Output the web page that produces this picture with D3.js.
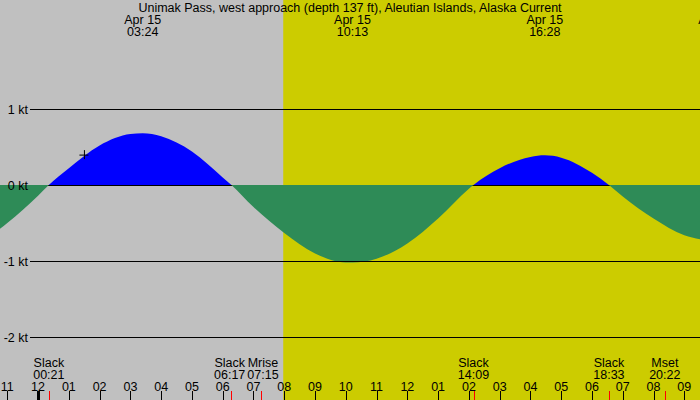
<!DOCTYPE html>
<html>
<head>
<meta charset="utf-8">
<script src="https://cdn.jsdelivr.net/npm/d3@7"></script>
<style>
  body { margin: 0; background: #fff; }
  svg text { font-family: "Liberation Sans", Arial, sans-serif; font-size: 12.5px; fill: #000; }
</style>
</head>
<body>
<svg id="chart" width="700" height="400"></svg>
<script>
// current readings, hours of Apr 15 (negative = Apr 14)
var sampleHours = [-1.25, -1, 0, 0.35, 1, 2, 3, 3.4, 4, 5, 6, 6.283, 7, 8, 9, 10, 10.217,
    11, 12, 13, 14, 14.15, 15, 16, 16.467, 17, 18, 18.55, 19, 20, 21, 21.6]
var sampleKnots = [-0.58, -0.50, -0.14, 0, 0.22, 0.52, 0.67, 0.68, 0.64, 0.44, 0.10, 0, -0.29, -0.63, -0.90, -1.02, -1.02,
    -0.97, -0.77, -0.44, -0.05, 0, 0.22, 0.37, 0.39, 0.36, 0.16, 0, -0.15, -0.44, -0.66, -0.72]

// top labels (max current)
var maxTimes = ["03:24", "10:13", "16:28", "22:03"]
var maxDates = ["Apr 15", "Apr 15", "Apr 15", "Apr 15"]

// bottom labels
var eventNames = ["Slack", "Slack", "Mrise", "Slack", "Slack", "Mset"]
var eventTimes = ["00:21", "06:17", "07:15", "14:09", "18:33", "20:22"]

var knotTicks = [1, 0, -1, -2]
var hourTicks = d3.range(-1, 22)
var sunrise = "07:58"
var marker = [1.49, 0.40]

var title = "Unimak Pass, west approach (depth 137 ft), Aleutian Islands, Alaska Current"

function toHours(s) {
    var p = s.split(":")
    return +p[0] + (+p[1]) / 60
}

var svg = d3.select("#chart")
var W = 700, H = 400

var x = d3.scaleLinear().domain([-1, 21]).range([7.3, 684.3])
var y = d3.scaleLinear().domain([-2, 1]).range([337, 109])

// night / day background
svg.append("rect").attr("x", 0).attr("y", 0).attr("width", W).attr("height", H).attr("fill", "#c0c0c0")
svg.append("rect")
    .attr("x", x(toHours(sunrise))).attr("y", 0)
    .attr("width", W - x(toHours(sunrise))).attr("height", H)
    .attr("fill", "#cccc00")

var samples = sampleHours.map(function (h, i) { return { h: h, v: sampleKnots[i] } })

// clip regions above / below slack water
var defs = svg.append("defs")
defs.append("clipPath").attr("id", "above")
    .append("rect").attr("x", 0).attr("y", 0).attr("width", W).attr("height", y(0))
defs.append("clipPath").attr("id", "below")
    .append("rect").attr("x", 0).attr("y", y(0)).attr("width", W).attr("height", H - y(0))

var area = d3.area()
    .x(function (d) { return x(d.h) })
    .y0(y(0))
    .y1(function (d) { return y(d.v) })
    .curve(d3.curveMonotoneX)

svg.append("path").attr("d", area(samples)).attr("fill", "#0000ff").attr("clip-path", "url(#above)")

// zero line (hidden under the ebb fill)
svg.append("line")
    .attr("x1", 30).attr("x2", W)
    .attr("y1", y(0) + 0.5).attr("y2", y(0) + 0.5)
    .attr("stroke", "#000")

svg.append("path").attr("d", area(samples)).attr("fill", "#2e8b57").attr("clip-path", "url(#below)")

// other grid lines sit on top
svg.selectAll(".grid")
    .data(knotTicks.filter(function (d) { return d !== 0 }))
    .enter()
    .append("line")
    .attr("class", "grid")
    .attr("x1", 30).attr("x2", W)
    .attr("y1", function (d) { return y(d) + 0.5 })
    .attr("y2", function (d) { return y(d) + 0.5 })
    .attr("stroke", "#000")

svg.selectAll(".klabel")
    .data(knotTicks)
    .enter()
    .append("text")
    .attr("x", 28)
    .attr("y", function (d) { return y(d) + 4.5 })
    .attr("text-anchor", "end")
    .text(function (d) { return d + " kt" })

// "+" marker
var mx = x(marker[0]), my = y(marker[1])
svg.append("path")
    .attr("d", "M" + (mx - 4.5) + " " + (my + 0.5) + "H" + (mx + 4.5) + "M" + (mx + 0.5) + " " + (my - 4.5) + "V" + (my + 4.5))
    .attr("stroke", "#000")
    .attr("fill", "none")

// title and max labels
svg.append("text").attr("x", W / 2).attr("y", 11.5).attr("text-anchor", "middle").text(title)

var tops = svg.selectAll(".top")
    .data(maxTimes)
    .enter()
    .append("g")
    .attr("transform", function (d) { return "translate(" + x(toHours(d)) + ",0)" })
tops.append("text").attr("y", 23.5).attr("text-anchor", "middle").text(function (d, i) { return maxDates[i] })
tops.append("text").attr("y", 35.5).attr("text-anchor", "middle").text(function (d) { return d })

// bottom event labels, nudged apart when they collide
var bots = svg.selectAll(".bot")
    .data(eventTimes)
    .enter()
    .append("g")
bots.append("text").attr("class", "name").attr("y", 366.5).attr("text-anchor", "middle").text(function (d, i) { return eventNames[i] })
bots.append("text").attr("class", "time").attr("y", 378.5).attr("text-anchor", "middle").text(function (d) { return d })

var centers = eventTimes.map(function (d) { return x(toHours(d)) })
var widths = []
bots.each(function () {
    var w = 0
    d3.select(this).selectAll("text").each(function () { w = Math.max(w, this.getComputedTextLength()) })
    widths.push(w)
})
var shifted = centers.slice()
for (var i = 1; i < shifted.length; i++) {
    var gap = (shifted[i] - widths[i] / 2) - (shifted[i - 1] + widths[i - 1] / 2)
    if (gap < 2) {
        shifted[i - 1] -= (2 - gap) / 2
        shifted[i] += (2 - gap) / 2
    }
}
bots.attr("transform", function (d, i) { return "translate(" + shifted[i] + ",0)" })

svg.selectAll(".etick")
    .data(eventTimes)
    .enter()
    .append("line")
    .attr("x1", function (d) { return Math.round(x(toHours(d))) + 0.5 })
    .attr("x2", function (d) { return Math.round(x(toHours(d))) + 0.5 })
    .attr("y1", 391).attr("y2", H)
    .attr("stroke", "#ff0000")

// hour axis
svg.selectAll(".hour")
    .data(hourTicks)
    .enter()
    .append("text")
    .attr("x", function (d) { return x(d) })
    .attr("y", 390.5)
    .attr("text-anchor", "middle")
    .text(function (d) {
        var h = ((d % 12) + 12) % 12
        if (h === 0) h = 12
        return (h < 10 ? "0" : "") + h
    })

svg.selectAll(".htick")
    .data(hourTicks)
    .enter()
    .append("line")
    .attr("x1", function (d) { return Math.round(x(d)) + 0.5 })
    .attr("x2", function (d) { return Math.round(x(d)) + 0.5 })
    .attr("y1", 391).attr("y2", H)
    .attr("stroke", "#000")
    .attr("stroke-width", function (d) { return d % 24 === 0 ? 3 : 1 })
</script>
</body>
</html>
